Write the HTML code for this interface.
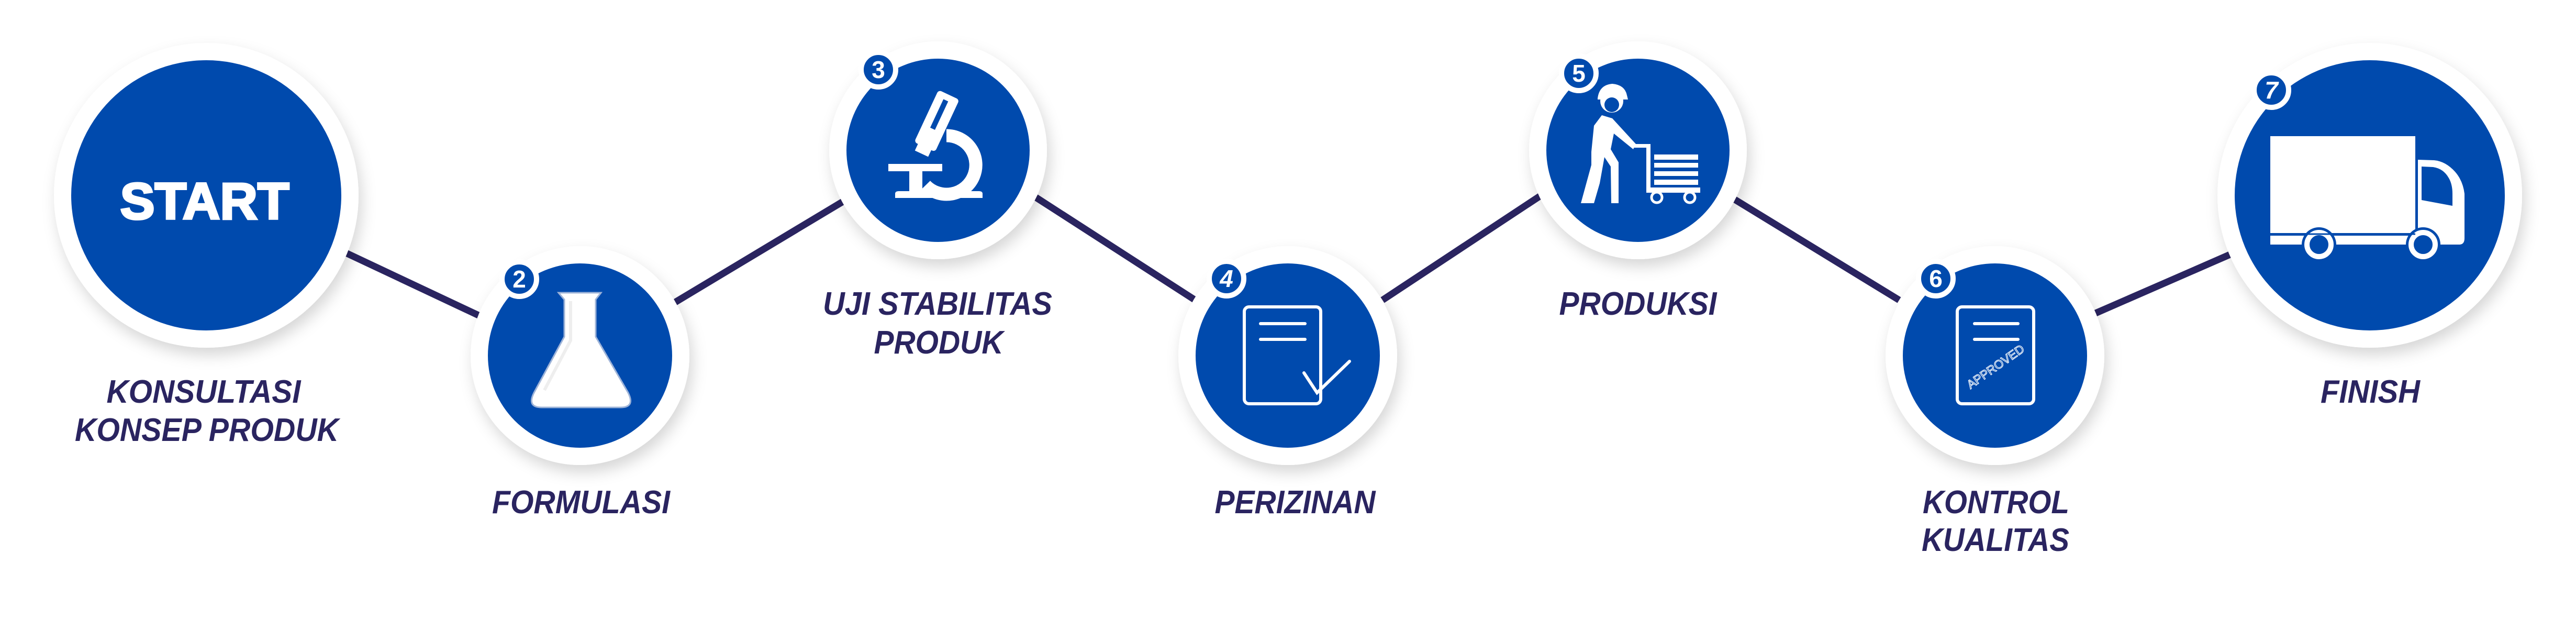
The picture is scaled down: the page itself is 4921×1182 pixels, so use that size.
<!DOCTYPE html>
<html><head><meta charset="utf-8"><style>
html,body{margin:0;padding:0;background:#fff;}
svg{display:block}
.lbl{font-family:"Liberation Sans",sans-serif;font-weight:bold;font-style:italic;font-size:62px;fill:#2a2460;text-anchor:middle}
.num{font-family:"Liberation Sans",sans-serif;font-weight:bold;font-size:46px;fill:#fff;text-anchor:middle}
</style></head><body>
<svg width="4921" height="1182" viewBox="0 0 4921 1182" xmlns="http://www.w3.org/2000/svg">
<defs>
<filter id="sh" x="-30%" y="-30%" width="160%" height="160%">
<feDropShadow dx="6" dy="14" stdDeviation="14" flood-color="#000" flood-opacity="0.16"/>
</filter>
</defs>
<g stroke="#2a2460" stroke-width="13" stroke-linecap="butt">
<line x1="661" y1="483" x2="916" y2="603"/>
<line x1="1290" y1="577" x2="1610" y2="385"/>
<line x1="1979" y1="377" x2="2283" y2="573"/>
<line x1="2641" y1="573" x2="2944" y2="373"/>
<line x1="3314" y1="381" x2="3628" y2="573"/>
<line x1="4001" y1="599" x2="4260" y2="486"/>
</g>
<g fill="#fff" filter="url(#sh)">
<circle cx="394" cy="373" r="291"/>
<circle cx="1108" cy="679" r="209"/>
<circle cx="1792" cy="287" r="208"/>
<circle cx="2460" cy="679" r="209"/>
<circle cx="3129" cy="287" r="208"/>
<circle cx="3811" cy="679" r="209"/>
<circle cx="4527" cy="373" r="291"/>
</g>
<g fill="#004aad">
<circle cx="394" cy="373" r="258"/>
<circle cx="1108" cy="679" r="176"/>
<circle cx="1792" cy="287" r="175"/>
<circle cx="2460" cy="679" r="176"/>
<circle cx="3129" cy="287" r="175"/>
<circle cx="3811" cy="679" r="176"/>
<circle cx="4527" cy="373" r="258"/>
</g>
<text x="391" y="418" font-family="Liberation Sans, sans-serif" font-weight="bold" font-size="98" fill="#fff" stroke="#fff" stroke-width="4" text-anchor="middle" textLength="323" lengthAdjust="spacingAndGlyphs">START</text>

<!-- flask -->
<path d="M1067,559 L1148,559 L1138,572 L1138,643 L1200,750 Q1214,778 1185,778 L1035,778 Q1006,778 1020,750 L1078,643 L1078,572 Z" fill="#fff" stroke="#9db3d8" stroke-width="3"/>
<path d="M1090,575 L1090,650 L1040,745" fill="none" stroke="#eee" stroke-width="6"/>

<!-- microscope -->
<g fill="#fff">
<path d="M1710,378 L1877,378 L1877,370 Q1877,365 1870,365 L1717,365 Q1710,365 1710,370 Z"/>
<rect x="1697" y="313" width="103" height="14"/>
<rect x="1737" y="325" width="25" height="42"/>
<g transform="rotate(25 1790 230)">
<rect x="1768" y="176" width="44" height="110" rx="6"/>
<rect x="1776" y="284" width="28" height="16"/>
</g>
<g transform="rotate(25 1790 230)" fill="#004aad"><rect x="1784" y="188" width="10" height="60"/></g>
</g>
<path d="M1808,259 A56,56 0 1 1 1768,354" fill="none" stroke="#fff" stroke-width="25"/>

<!-- doc 4 -->
<g fill="none" stroke="#fff" stroke-width="6">
<rect x="2377" y="586" width="146" height="185" rx="9"/>
<line x1="2408" y1="618" x2="2493" y2="618" stroke-linecap="round"/>
<line x1="2408" y1="648" x2="2493" y2="648" stroke-linecap="round"/>
<polyline points="2491,712 2516,750 2578,690" stroke-linecap="round"/>
</g>

<!-- worker -->
<g fill="#fff">
<circle cx="3079" cy="193" r="22"/>
<path d="M3052,188 Q3055,162 3080,160 Q3104,162 3108,182 L3110,190 L3052,190 Z"/>
<circle cx="3079" cy="200" r="14" fill="#004aad"/>
<path d="M3060,220 L3080,226 L3125,275 L3120,285 L3083,255 L3077,285 L3092,310 L3092,388 L3078,388 L3077,318 L3065,300 L3056,350 L3045,388 L3020,388 L3040,315 L3040,290 L3045,240 Z"/>
<rect x="3145" y="275" width="8" height="92"/>
<rect x="3120" y="275" width="33" height="7"/>
<rect x="3160" y="295" width="84" height="10"/>
<rect x="3160" y="311" width="84" height="9"/>
<rect x="3160" y="327" width="84" height="9"/>
<rect x="3160" y="343" width="84" height="10"/>
<rect x="3145" y="358" width="103" height="10"/>
</g>
<circle cx="3165" cy="377" r="10" fill="#004aad" stroke="#fff" stroke-width="5"/>
<circle cx="3228" cy="377" r="10" fill="#004aad" stroke="#fff" stroke-width="5"/>

<!-- doc 6 -->
<g fill="none" stroke="#fff" stroke-width="6">
<rect x="3739" y="586" width="146" height="185" rx="9"/>
<line x1="3772" y1="618" x2="3855" y2="618" stroke-linecap="round"/>
<line x1="3772" y1="648" x2="3855" y2="648" stroke-linecap="round"/>
</g>
<text x="3812" y="708" font-family="Liberation Sans, sans-serif" font-size="23" fill="none" stroke="#fff" stroke-width="1.2" text-anchor="middle" transform="rotate(-35 3812 700)">APPROVED</text>

<!-- truck -->
<g fill="#fff">
<rect x="4337" y="260" width="277" height="185"/>
<path d="M4619,305 L4650,306 Q4672,308 4690,328 Q4705,345 4708,370 L4708,455 Q4708,467 4698,467 L4619,467 Z"/>
<rect x="4337" y="450" width="290" height="17"/>
</g>
<path d="M4626,318 L4648,319 Q4668,322 4678,340 Q4685,352 4685,370 L4685,393 L4626,382 Z" fill="#004aad"/>
<circle cx="4430" cy="467" r="33" fill="#004aad"/>
<circle cx="4629" cy="467" r="33" fill="#004aad"/>
<circle cx="4430" cy="467" r="23" fill="#004aad" stroke="#fff" stroke-width="10"/>
<circle cx="4629" cy="467" r="23" fill="#004aad" stroke="#fff" stroke-width="10"/>
<line x1="4337" y1="447" x2="4614" y2="447" stroke="#004aad" stroke-width="3"/>

<!-- badges -->
<g fill="#004aad" stroke="#fff" stroke-width="10">
<circle cx="992" cy="533" r="33"/>
<circle cx="1678" cy="133" r="33"/>
<circle cx="2343" cy="532" r="33"/>
<circle cx="3016" cy="140" r="33"/>
<circle cx="3698" cy="532" r="33"/>
<circle cx="4339" cy="172" r="33"/>
</g>
<text class="num" x="992" y="549">2</text>
<text class="num" x="1678" y="149">3</text>
<text class="num" x="2343" y="548" font-style="italic">4</text>
<text class="num" x="3016" y="156">5</text>
<text class="num" x="3698" y="548">6</text>
<text class="num" x="4339" y="188" font-style="italic">7</text>

<text class="lbl" x="389" y="769" textLength="371" lengthAdjust="spacingAndGlyphs">KONSULTASI</text>
<text class="lbl" x="395" y="842" textLength="504" lengthAdjust="spacingAndGlyphs">KONSEP PRODUK</text>
<text class="lbl" x="1110" y="980" textLength="340" lengthAdjust="spacingAndGlyphs">FORMULASI</text>
<text class="lbl" x="1791" y="601" textLength="438" lengthAdjust="spacingAndGlyphs">UJI STABILITAS</text>
<text class="lbl" x="1793" y="675" textLength="247" lengthAdjust="spacingAndGlyphs">PRODUK</text>
<text class="lbl" x="2474" y="980" textLength="307" lengthAdjust="spacingAndGlyphs">PERIZINAN</text>
<text class="lbl" x="3129" y="601" textLength="301" lengthAdjust="spacingAndGlyphs">PRODUKSI</text>
<text class="lbl" x="3813" y="980" textLength="280" lengthAdjust="spacingAndGlyphs">KONTROL</text>
<text class="lbl" x="3812" y="1052" textLength="282" lengthAdjust="spacingAndGlyphs">KUALITAS</text>
<text class="lbl" x="4528" y="769" textLength="190" lengthAdjust="spacingAndGlyphs">FINISH</text>
</svg>
</body></html>
